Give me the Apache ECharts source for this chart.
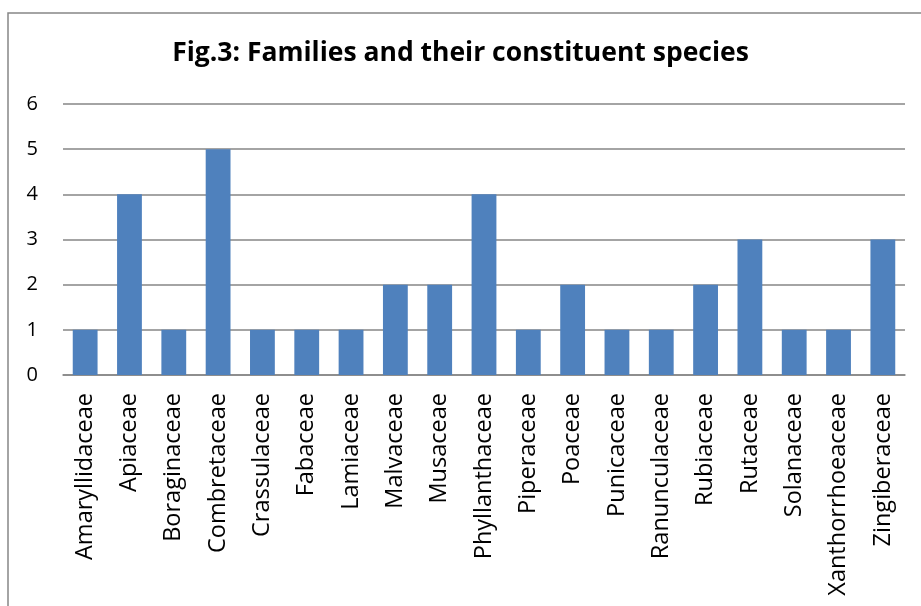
<!DOCTYPE html>
<html>
<head>
<meta charset="utf-8">
<script src="https://cdn.jsdelivr.net/npm/echarts@6/dist/echarts.min.js"></script>
<style>
  html, body { margin: 0; padding: 0; background: #ffffff; }
  #chart { width: 921px; height: 606px; }
</style>
</head>
<body>
<div id="chart"></div>
<script>
// Plant families and the number of species recorded in each
const families = [
  'Amaryllidaceae', 'Apiaceae', 'Boraginaceae', 'Combretaceae', 'Crassulaceae',
  'Fabaceae', 'Lamiaceae', 'Malvaceae', 'Musaceae', 'Phyllanthaceae',
  'Piperaceae', 'Poaceae', 'Punicaceae', 'Ranunculaceae', 'Rubiaceae',
  'Rutaceae', 'Solanaceae', 'Xanthorrhoeaceae', 'Zingiberaceae'
];
const speciesCount = [1, 4, 1, 5, 1, 1, 1, 2, 2, 4, 1, 2, 1, 1, 2, 3, 1, 1, 3];
const yTicks = [0, 1, 2, 3, 4, 5, 6];

const chart = echarts.init(document.getElementById('chart'), null, { renderer: 'canvas' });
const FONT = 'Open Sans';

chart.setOption({
  animation: false,
  backgroundColor: '#ffffff',
  title: {
    text: 'Fig.3: Families and their constituent species',
    left: 'center',
    top: 35,
    textStyle: { fontFamily: FONT, fontWeight: 'bold', fontSize: 26.5, color: '#000000' }
  },
  graphic: [{
    type: 'rect',
    shape: { x: 8, y: 13, width: 960, height: 640 },
    style: { fill: 'none', stroke: '#868686', lineWidth: 1.5 },
    silent: true
  }],
  grid: { left: 63, right: 16, top: 104, bottom: 231, containLabel: false },
  xAxis: {
    type: 'category',
    data: families,
    axisLine: { show: true, lineStyle: { color: '#868686', width: 1.5 } },
    axisTick: { show: false },
    axisLabel: {
      rotate: 90, interval: 0, margin: 18,
      fontFamily: FONT, fontSize: 23.5, color: '#000000'
    }
  },
  yAxis: {
    type: 'value',
    min: yTicks[0],
    max: yTicks[yTicks.length - 1],
    interval: 1,
    axisLine: { show: false },
    axisTick: { show: false },
    splitLine: { lineStyle: { color: '#868686', width: 1.5 } },
    axisLabel: { margin: 25, fontFamily: FONT, fontSize: 20, color: '#000000' }
  },
  series: [{
    type: 'bar',
    data: speciesCount,
    barWidth: '56%',
    itemStyle: { color: '#4F81BD' }
  }]
});
</script>
</body>
</html>
